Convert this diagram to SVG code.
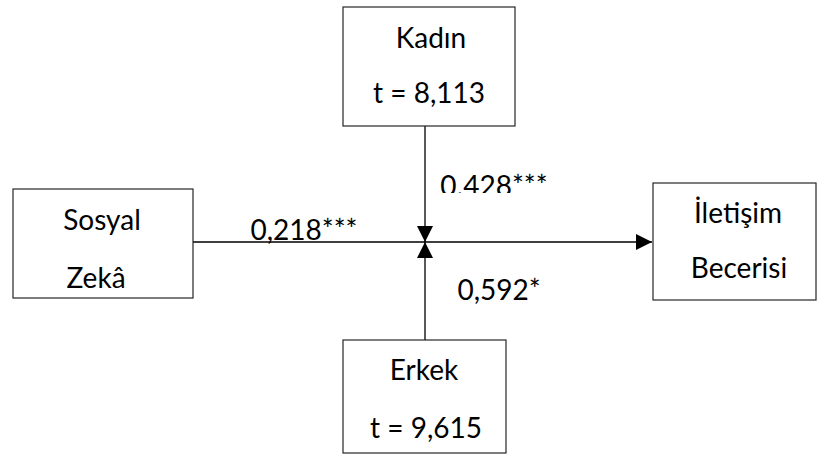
<svg xmlns="http://www.w3.org/2000/svg" width="818" height="454" viewBox="0 0 818 454">
<style>
.box{fill:#fff;stroke:#262626;stroke-width:1.2}
.t{font-family:Lato,"Liberation Sans",sans-serif;font-size:28px;fill:#000;text-anchor:middle}
.c{stroke:#000;stroke-width:1.3;fill:none}
</style>
<defs>
<marker id="ah" viewBox="0 0 16 16" refX="16" refY="8" markerWidth="16" markerHeight="16" markerUnits="userSpaceOnUse" orient="auto">
<path d="M0,0 L16,8 L0,16 Z" fill="#000"/>
</marker>
<clipPath id="clipLbl"><rect x="0" y="0" width="818" height="193"/></clipPath>
</defs>
<g id="connectors">
<line class="c" x1="193" y1="242" x2="652" y2="242" marker-end="url(#ah)"/>
<line class="c" x1="425" y1="126" x2="425" y2="242" marker-end="url(#ah)"/>
<line class="c" x1="425" y1="340" x2="425" y2="242" marker-end="url(#ah)"/>
<text class="t" x="304" y="240">0,218***</text>
<text class="t" x="494" y="196" clip-path="url(#clipLbl)">0.428***</text>
<text class="t" x="499" y="300">0,592*</text>
</g>
<g id="kadin">
<rect class="box" x="343" y="7" width="172" height="119"/>
<text class="t" x="431" y="48">Kadın</text>
<text class="t" x="429" y="103">t = 8,113</text>
</g>
<g id="sosyal">
<rect class="box" x="13" y="189" width="180" height="109"/>
<text class="t" x="102" y="230">Sosyal</text>
<text class="t" x="96" y="288">Zekâ</text>
</g>
<g id="iletisim">
<rect class="box" x="653" y="183" width="163" height="117"/>
<text class="t" x="738" y="223">İletişim</text>
<text class="t" x="739" y="278">Becerisi</text>
</g>
<g id="erkek">
<rect class="box" x="343" y="340" width="163" height="113"/>
<text class="t" x="424" y="380">Erkek</text>
<text class="t" x="426" y="438">t = 9,615</text>
</g>
</svg>
